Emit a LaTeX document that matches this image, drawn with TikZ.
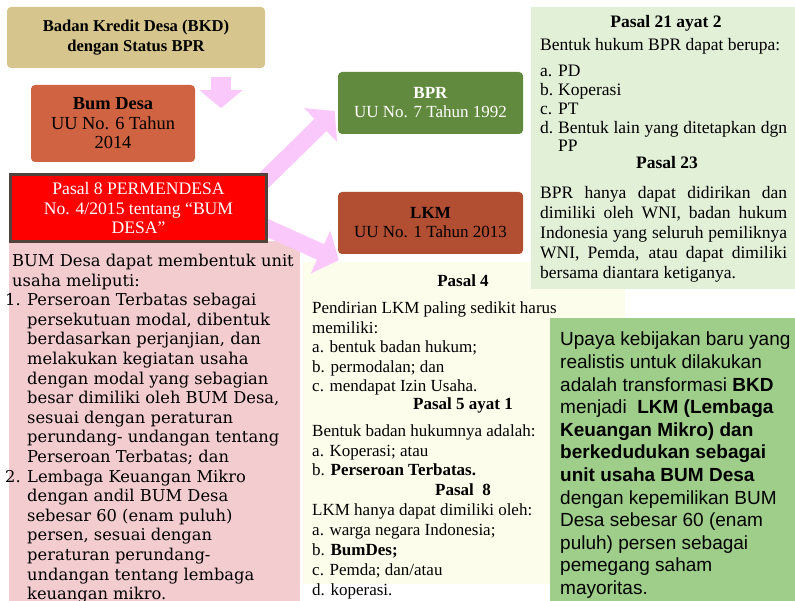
\documentclass[tikz,border=0pt]{standalone}
\usepackage{fontspec}
\setmainfont{Liberation Serif}
\newfontfamily\bookfont{DejaVu Serif}
\newfontfamily\arialfont{Liberation Sans}
\usetikzlibrary{arrows.meta,calc}

\definecolor{woodtan}{RGB}{214,197,140}
\definecolor{brick}{RGB}{208,99,66}
\definecolor{lkmbrown}{RGB}{178,78,50}
\definecolor{bprgreen}{RGB}{98,138,62}
\definecolor{pinkbox}{RGB}{242,204,206}
\definecolor{creambox}{RGB}{253,253,236}
\definecolor{palegreen}{RGB}{226,240,216}
\definecolor{mossgreen}{RGB}{158,206,138}
\definecolor{arrowpink}{RGB}{250,200,250}
\definecolor{frameborder}{RGB}{82,66,60}

\newcommand{\jl}[1]{\makebox[247pt][s]{#1}}
\newcommand{\itm}[1]{\makebox[18pt][l]{#1}}
\newcommand{\enumlbl}[1]{\makebox[22pt][l]{#1}}

\pgfdeclarelayer{back}
\pgfsetlayers{back,main}

\begin{document}
\begin{tikzpicture}[x=1pt,y=-1pt,
  lawbox/.style={rounded corners=4pt,inner sep=0pt,align=center,
    minimum width=185pt,minimum height=62pt,font=\fontsize{17}{19}\selectfont},
  para/.style={anchor=north west,inner sep=0pt,align=left,font=\fontsize{17}{19.5}\selectfont},
  head/.style={inner sep=0pt,font=\fontsize{17}{19.5}\selectfont\bfseries},
  fatarrow/.style={arrowpink,line width=17pt,-{Triangle[length=20pt,width=46pt]}},
  droparrow/.style={arrowpink,line width=20pt,-{Triangle[length=18pt,width=42pt]}}]
\useasboundingbox (0,0) rectangle (795,601);

% boxes on the left
\node[lawbox,fill=woodtan,minimum width=258pt,minimum height=61pt,font=\fontsize{16.6}{20}\selectfont\bfseries] (bkd) at (136,37.5) {Badan Kredit Desa (BKD)\\dengan Status BPR};
\node[lawbox,fill=brick,minimum width=164pt,minimum height=77pt,font=\fontsize{18.4}{19.5}\selectfont] (bumdesa) at (113,123.5) {\textbf{Bum Desa}\\UU No. 6 Tahun\\2014};
\node[lawbox,rounded corners=0pt,fill=red,draw=frameborder,line width=3pt,text=white,minimum width=256pt,minimum height=67pt,font=\fontsize{17.6}{19.5}\selectfont] (pasal8) at (138.5,208) {Pasal 8 PERMENDESA\\No. 4/2015 tentang “BUM\\DESA”};

% the two laws
\node[lawbox,fill=bprgreen,text=white] (bpr) at (430.5,103) {\textbf{BPR}\\UU No. 7 Tahun 1992};
\node[lawbox,fill=lkmbrown] (lkm) at (430.5,223) {\textbf{LKM}\\UU No. 1 Tahun 2013};

% BUM Desa units
\node[para,font=\bookfont\fontsize{16.3}{19.6}\selectfont] (unitusaha) at (5,254) {%
\hspace*{7pt}BUM Desa dapat membentuk unit\\
\hspace*{7pt}usaha meliputi:\\
\enumlbl{1.}Perseroan Terbatas sebagai\\
\enumlbl{}persekutuan modal, dibentuk\\
\enumlbl{}berdasarkan perjanjian, dan\\
\enumlbl{}melakukan kegiatan usaha\\
\enumlbl{}dengan modal yang sebagian\\
\enumlbl{}besar dimiliki oleh BUM Desa,\\
\enumlbl{}sesuai dengan peraturan\\
\enumlbl{}perundang- undangan tentang\\
\enumlbl{}Perseroan Terbatas; dan\\
\enumlbl{2.}Lembaga Keuangan Mikro\\
\enumlbl{}dengan andil BUM Desa\\
\enumlbl{}sebesar 60 (enam puluh)\\
\enumlbl{}persen, sesuai dengan\\
\enumlbl{}peraturan perundang-\\
\enumlbl{}undangan tentang lembaga\\
\enumlbl{}keuangan mikro.};

% Pasal 21 ayat 2 and Pasal 23
\node[head,font=\fontsize{17.5}{20}\selectfont\bfseries] (p21) at (666,23) {Pasal 21 ayat 2};
\node[para,font=\fontsize{17.5}{20}\selectfont] (p21intro) at (540,38) {Bentuk hukum BPR dapat berupa:};
\node[para,font=\fontsize{17.5}{18.8}\selectfont] (p21list) at (540,65) {\itm{a.}PD\\\itm{b.}Koperasi\\\itm{c.}PT\\\jl{\itm{d.}Bentuk lain yang ditetapkan dgn}\\\itm{}PP};
\node[head,font=\fontsize{17.5}{20}\selectfont\bfseries] (p23) at (667,163) {Pasal 23};
\node[para,font=\fontsize{17.5}{20}\selectfont] (p23text) at (540,186) {\jl{BPR hanya dapat didirikan dan}\\\jl{dimiliki oleh WNI, badan hukum}\\\jl{Indonesia yang seluruh pemiliknya}\\\jl{WNI, Pemda, atau dapat dimiliki}\\bersama diantara ketiganya.};

% Pasal 4, 5 and 8 on LKM
\node[head] (p4) at (463,281) {Pasal 4};
\node[para] (p4text) at (312,302) {Pendirian LKM paling sedikit harus\\memiliki:\\a. bentuk badan hukum;\\b. permodalan; dan\\c. mendapat Izin Usaha.};
\node[head] (p5) at (463,405) {Pasal 5 ayat 1};
\node[para] (p5text) at (312,425) {Bentuk badan hukumnya adalah:\\a. Koperasi; atau\\b. \textbf{Perseroan Terbatas.}};
\node[head] (p8) at (463,490) {Pasal~~8};
\node[para,font=\fontsize{17}{20}\selectfont] (p8text) at (312,504) {LKM hanya dapat dimiliki oleh:\\a. warga negara Indonesia;\\b. \textbf{BumDes;}\\c. Pemda; dan/atau\\d. koperasi.};

% policy note
\node[para,font=\arialfont\fontsize{19}{22.6}\selectfont] (upaya) at (560,332) {Upaya kebijakan baru yang\\realistis untuk dilakukan\\adalah transformasi \textbf{BKD}\\menjadi~ \textbf{LKM (Lembaga}\\\textbf{Keuangan Mikro) dan}\\\textbf{berkedudukan sebagai}\\\textbf{unit usaha BUM Desa}\\dengan kepemilikan BUM\\Desa sebesar 60 (enam\\puluh) persen sebagai\\pemegang saham\\mayoritas.};

\begin{pgfonlayer}{back}
\fill[pinkbox] (9,241) rectangle (300,601);
\fill[creambox] (303,262) rectangle (625,584);
\fill[palegreen] (531,7) rectangle (795,289);
\fill[mossgreen] (550,318) rectangle (795,601);
\draw[droparrow] ($(bkd.south)+(85,9)$) -- ($(bkd.south)+(85,40)$);
\draw[fatarrow] ($(pasal8.north east)+(-18,21)$) -- ($(bpr.west)+(-3,8)$);
\draw[fatarrow] ($(pasal8.east)+(-28,7.6)$) -- ($(lkm.south west)+(1,6)$);
\end{pgfonlayer}
\end{tikzpicture}
\end{document}
